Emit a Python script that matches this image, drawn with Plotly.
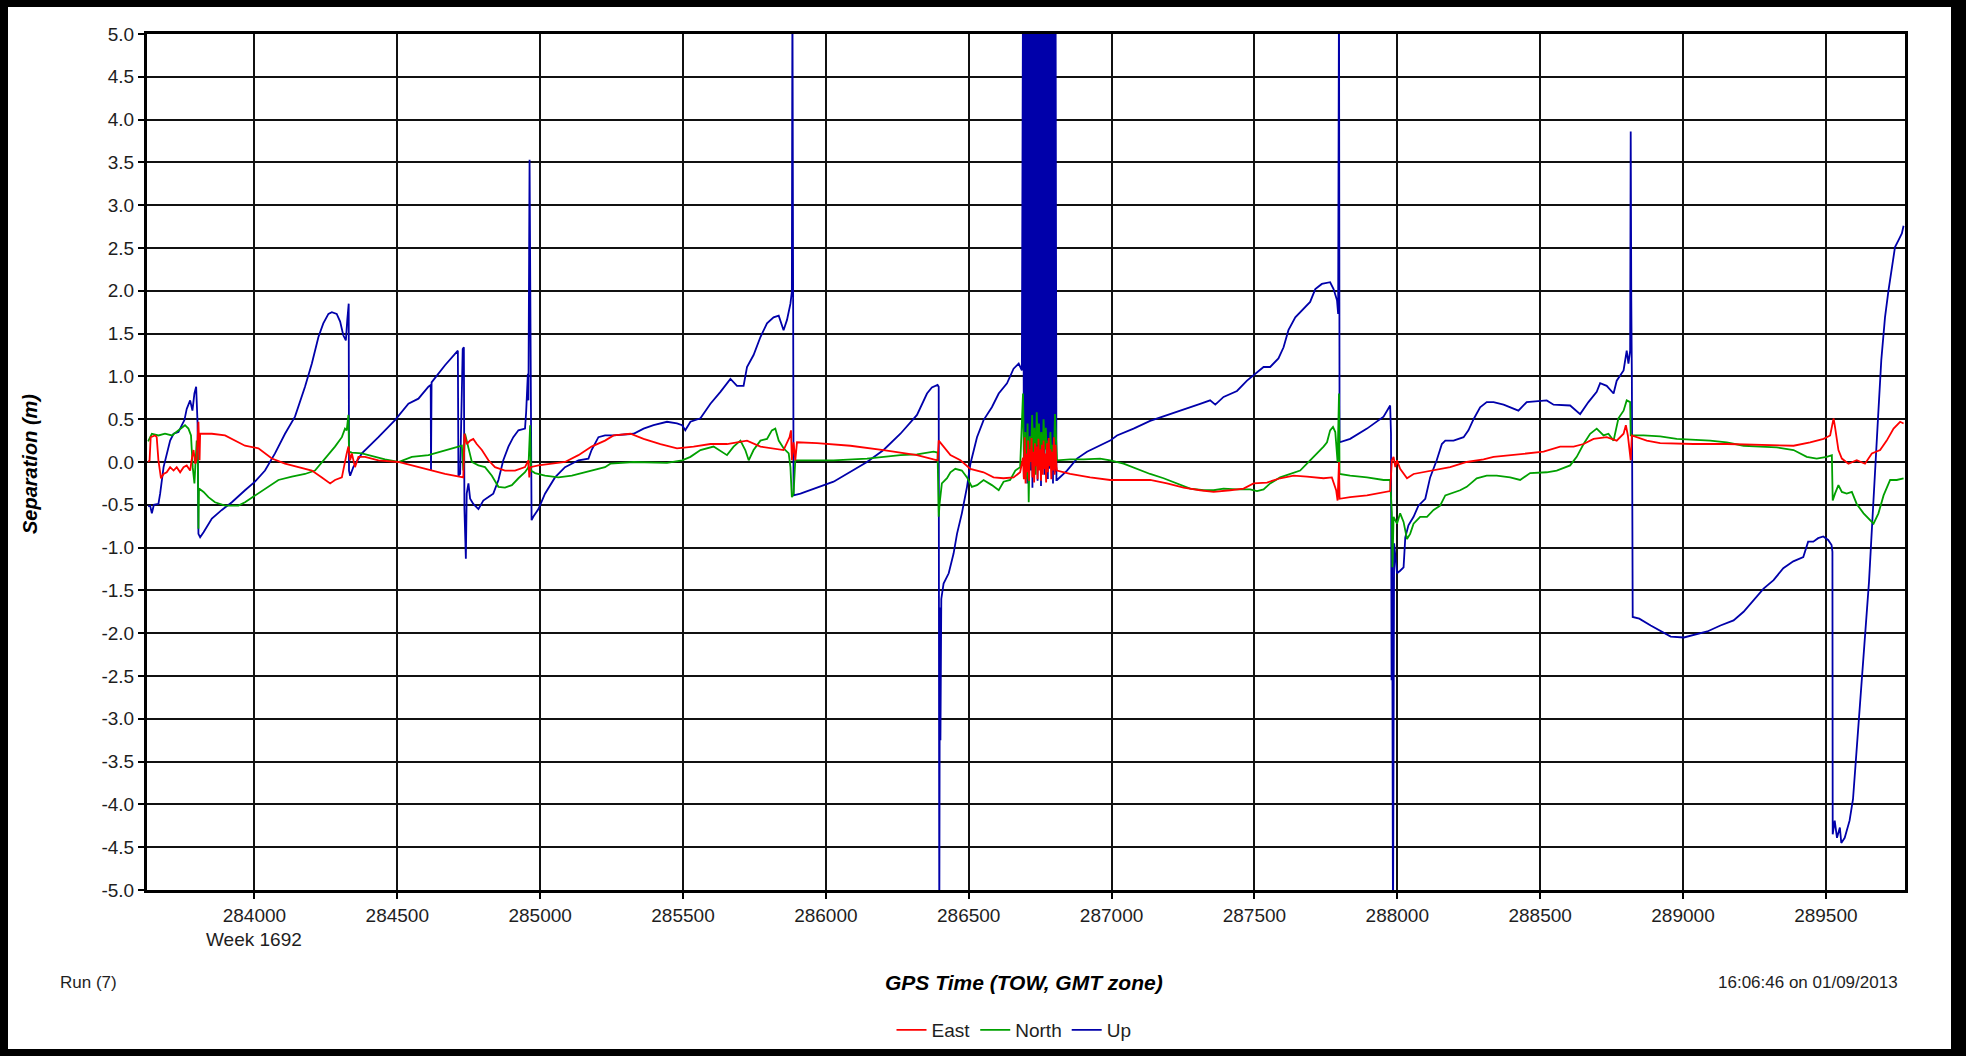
import plotly.graph_objects as go

# GPS separation (metres) against time of week, three components.
# Each list holds (TOW seconds, separation m) pairs.

EAST = [
    (283628, 0.00), (283633, 0.02), (283637, 0.29), (283652, 0.31), (283658, 0.29),
    (283664, 0.02), (283673, -0.19), (283682, -0.14), (283693, -0.12), (283705, -0.06),
    (283717, -0.10), (283728, -0.06), (283740, -0.12), (283752, -0.06), (283763, -0.04),
    (283775, -0.10), (283780, 0.02), (283787, 0.14), (283793, -0.02), (283798, 0.04),
    (283804, 0.47), (283808, 0.02), (283810, 0.33), (283851, 0.33), (283897, 0.31),
    (283932, 0.25), (283967, 0.19), (284014, 0.16), (284061, 0.04), (284107, -0.02),
    (284154, -0.06), (284201, -0.10), (284236, -0.18), (284265, -0.25), (284282, -0.21),
    (284306, -0.18), (284323, 0.10), (284329, 0.18), (284335, 0.02), (284341, 0.10),
    (284352, -0.06), (284364, 0.06), (284387, 0.06), (284434, 0.02), (284504, 0.00),
    (284551, -0.04), (284615, -0.09), (284667, -0.14), (284731, -0.18), (284735, 0.33),
    (284743, 0.21), (284755, 0.25), (284766, 0.27), (284778, 0.21), (284796, 0.14),
    (284819, 0.02), (284842, -0.06), (284877, -0.10), (284912, -0.10), (284947, -0.06),
    (284959, 0.02), (284962, -0.18), (284966, -0.06), (284994, -0.04), (285041, -0.02),
    (285087, 0.00), (285134, 0.08), (285180, 0.18), (285227, 0.25), (285257, 0.31),
    (285316, 0.33), (285362, 0.27), (285421, 0.21), (285479, 0.16), (285537, 0.18),
    (285596, 0.21), (285654, 0.21), (285724, 0.25), (285771, 0.18), (285817, 0.16),
    (285852, 0.14), (285873, 0.29), (285878, 0.37), (285881, 0.02), (285887, 0.23),
    (285893, 0.02), (285899, 0.23), (285969, 0.22), (286086, 0.19), (286202, 0.14),
    (286319, 0.08), (286377, 0.03), (286391, 0.02), (286395, 0.25), (286412, 0.18),
    (286436, 0.08), (286471, 0.02), (286506, -0.08), (286552, -0.12), (286587, -0.18),
    (286622, -0.19), (286657, -0.18), (286680, -0.12),
    (286690, 0.05), (286693, -0.20), (286696, 0.29), (286699, -0.25), (286702, 0.10),
    (286705, -0.12), (286708, 0.25), (286711, -0.22), (286714, 0.15), (286717, 0.00),
    (286720, 0.28), (286723, -0.18), (286726, 0.12), (286729, -0.24), (286732, 0.22),
    (286735, -0.05), (286738, 0.18), (286741, -0.20), (286744, 0.27), (286747, -0.10),
    (286750, 0.15), (286753, -0.22), (286756, 0.20), (286759, -0.15), (286762, 0.25),
    (286765, -0.08), (286768, 0.10), (286771, -0.24), (286774, 0.22), (286777, -0.12),
    (286780, 0.28), (286783, -0.05), (286786, 0.15), (286789, -0.20), (286792, 0.12),
    (286795, -0.10), (286798, 0.29), (286801, -0.15), (286804, 0.20), (286807, -0.05),
    (286809, -0.10), (286855, -0.14), (286925, -0.18), (286995, -0.21), (287077, -0.21),
    (287135, -0.21), (287194, -0.25), (287252, -0.30), (287310, -0.33), (287357, -0.35),
    (287415, -0.33), (287462, -0.31), (287497, -0.25), (287544, -0.24), (287590, -0.19),
    (287637, -0.16), (287684, -0.17), (287742, -0.19), (287771, -0.18), (287779, -0.25),
    (287786, -0.33), (287791, -0.45), (287796, 0.00), (287798, -0.43), (287835, -0.41),
    (287894, -0.39), (287952, -0.35), (287975, -0.34), (287981, 0.02), (287987, 0.06),
    (287993, -0.06), (287999, 0.02), (288010, -0.08), (288034, -0.19), (288057, -0.14),
    (288092, -0.12), (288138, -0.09), (288185, -0.06), (288243, 0.00), (288302, 0.03),
    (288337, 0.06), (288395, 0.08), (288453, 0.10), (288512, 0.12), (288570, 0.18),
    (288617, 0.18), (288652, 0.21), (288687, 0.27), (288733, 0.29), (288768, 0.25),
    (288792, 0.33), (288800, 0.43), (288807, 0.31), (288817, 0.02), (288821, 0.31),
    (288873, 0.25), (288920, 0.22), (289037, 0.21), (289153, 0.21), (289270, 0.20),
    (289387, 0.19), (289445, 0.23), (289492, 0.27), (289515, 0.31), (289527, 0.51),
    (289532, 0.41), (289544, 0.14), (289556, 0.04), (289579, -0.02), (289608, 0.02),
    (289637, -0.02), (289661, 0.10), (289690, 0.14), (289713, 0.25), (289737, 0.39),
    (289760, 0.47), (289772, 0.45),
]

NORTH = [
    (283628, 0.24), (283635, 0.29), (283641, 0.33), (283664, 0.31), (283687, 0.33),
    (283711, 0.31), (283734, 0.37), (283746, 0.41), (283757, 0.43), (283769, 0.39),
    (283778, 0.31), (283784, -0.06), (283790, -0.25), (283793, -0.06), (283798, 0.25),
    (283802, 0.02), (283804, -0.78), (283806, -0.31), (283822, -0.35), (283839, -0.41),
    (283862, -0.47), (283897, -0.51), (283944, -0.51), (283967, -0.47), (284002, -0.39),
    (284037, -0.31), (284084, -0.21), (284131, -0.17), (284177, -0.14), (284212, -0.10),
    (284247, 0.04), (284282, 0.18), (284306, 0.29), (284317, 0.39), (284323, 0.37),
    (284329, 0.55), (284331, 0.12), (284341, 0.11), (284376, 0.10), (284411, 0.07),
    (284457, 0.03), (284504, 0.00), (284551, 0.06), (284609, 0.08), (284667, 0.14),
    (284714, 0.18), (284726, 0.19), (284731, -0.10), (284737, 0.33), (284749, 0.18),
    (284761, 0.00), (284784, -0.04), (284807, -0.06), (284831, -0.16), (284854, -0.29),
    (284877, -0.30), (284901, -0.27), (284924, -0.19), (284947, -0.12), (284959, -0.06),
    (284965, 0.43), (284968, -0.10), (284982, -0.13), (285017, -0.16), (285064, -0.18),
    (285111, -0.16), (285157, -0.12), (285204, -0.08), (285227, -0.06), (285246, -0.02),
    (285327, 0.00), (285444, -0.01), (285497, 0.02), (285526, 0.06), (285561, 0.14),
    (285607, 0.18), (285654, 0.08), (285677, 0.18), (285701, 0.25), (285718, 0.14),
    (285730, 0.02), (285747, 0.14), (285771, 0.25), (285794, 0.27), (285811, 0.37),
    (285823, 0.39), (285835, 0.25), (285852, 0.16), (285870, 0.10), (285876, -0.06),
    (285881, -0.41), (285887, -0.37), (285893, 0.02), (285911, 0.02), (286027, 0.02),
    (286144, 0.04), (286261, 0.08), (286319, 0.09), (286377, 0.12), (286391, 0.11),
    (286395, -0.64), (286398, -0.49), (286406, -0.25), (286424, -0.19), (286436, -0.12),
    (286453, -0.08), (286476, -0.10), (286494, -0.18), (286511, -0.29), (286529, -0.27),
    (286552, -0.21), (286581, -0.27), (286605, -0.33), (286622, -0.23), (286645, -0.21),
    (286663, -0.10), (286680, -0.06),
    (286690, 0.80), (286694, -0.10), (286698, 0.35), (286702, -0.20), (286706, 0.45),
    (286710, -0.47), (286714, 0.30), (286718, 0.05), (286722, 0.55), (286726, 0.10),
    (286730, 0.40), (286734, -0.15), (286738, 0.58), (286742, 0.20), (286746, 0.45),
    (286750, 0.05), (286754, 0.35), (286758, -0.05), (286762, 0.50), (286766, 0.15),
    (286770, 0.40), (286774, -0.10), (286778, 0.25), (286782, 0.10), (286786, 0.35),
    (286790, -0.05), (286794, 0.20), (286798, 0.05), (286802, 0.56), (286806, 0.10),
    (286809, 0.02), (286855, 0.03), (286902, 0.03), (286960, 0.04), (286995, 0.02),
    (287042, -0.02), (287089, -0.08), (287135, -0.14), (287182, -0.19), (287229, -0.25),
    (287275, -0.31), (287322, -0.33), (287357, -0.33), (287392, -0.31), (287439, -0.32),
    (287485, -0.32), (287509, -0.34), (287532, -0.32), (287555, -0.25), (287590, -0.18),
    (287625, -0.14), (287660, -0.10), (287695, 0.02), (287719, 0.10), (287742, 0.18),
    (287754, 0.23), (287765, 0.37), (287775, 0.41), (287783, 0.35), (287791, 0.00),
    (287796, 0.80), (287798, -0.14), (287835, -0.16), (287894, -0.18), (287952, -0.21),
    (287975, -0.21), (287981, -0.60), (287983, -1.23), (287987, -0.64), (287999, -0.72),
    (288010, -0.60), (288022, -0.70), (288034, -0.90), (288045, -0.84), (288057, -0.72),
    (288080, -0.64), (288104, -0.64), (288127, -0.56), (288150, -0.51), (288168, -0.39),
    (288185, -0.37), (288220, -0.33), (288243, -0.29), (288278, -0.19), (288313, -0.16),
    (288348, -0.16), (288395, -0.18), (288430, -0.21), (288465, -0.13), (288523, -0.12),
    (288558, -0.10), (288605, -0.04), (288628, 0.06), (288652, 0.21), (288675, 0.33),
    (288698, 0.39), (288722, 0.31), (288739, 0.33), (288757, 0.25), (288774, 0.51),
    (288792, 0.60), (288803, 0.72), (288815, 0.70), (288817, 0.31), (288862, 0.31),
    (288920, 0.30), (288978, 0.27), (289037, 0.26), (289095, 0.25), (289153, 0.23),
    (289212, 0.19), (289270, 0.18), (289328, 0.17), (289387, 0.14), (289433, 0.06),
    (289468, 0.04), (289503, 0.06), (289521, 0.08), (289524, -0.45), (289532, -0.37),
    (289544, -0.27), (289556, -0.35), (289573, -0.37), (289591, -0.35), (289608, -0.49),
    (289632, -0.60), (289667, -0.72), (289684, -0.60), (289702, -0.39), (289725, -0.21),
    (289748, -0.21), (289772, -0.19),
]

UP = [
    (283628, -0.52), (283635, -0.51), (283641, -0.60), (283648, -0.50), (283664, -0.49),
    (283670, -0.37), (283682, -0.06), (283693, 0.10), (283705, 0.25), (283717, 0.33),
    (283734, 0.35), (283746, 0.43), (283755, 0.49), (283763, 0.62), (283775, 0.72),
    (283783, 0.60), (283790, 0.80), (283796, 0.88), (283801, 0.45), (283804, -0.84),
    (283810, -0.88), (283822, -0.82), (283839, -0.72), (283851, -0.66), (283886, -0.56),
    (283921, -0.47), (283967, -0.33), (284002, -0.23), (284037, -0.10), (284072, 0.10),
    (284107, 0.33), (284142, 0.53), (284177, 0.88), (284201, 1.15), (284224, 1.46),
    (284241, 1.62), (284259, 1.73), (284271, 1.75), (284288, 1.73), (284300, 1.64),
    (284311, 1.48), (284320, 1.42), (284325, 1.66), (284330, 1.85), (284331, -0.10),
    (284335, -0.16), (284346, -0.06), (284376, 0.10), (284434, 0.29), (284492, 0.49),
    (284539, 0.68), (284574, 0.74), (284609, 0.88), (284617, 0.90), (284618, -0.10),
    (284620, 0.93), (284667, 1.13), (284702, 1.27), (284712, 1.30), (284714, -0.16),
    (284720, -0.14), (284729, 1.32), (284733, 1.34), (284735, -0.55), (284740, -1.13),
    (284743, -0.37), (284749, -0.25), (284755, -0.43), (284766, -0.49), (284784, -0.55),
    (284801, -0.45), (284819, -0.41), (284836, -0.37), (284854, -0.21), (284871, 0.02),
    (284889, 0.18), (284906, 0.29), (284924, 0.37), (284947, 0.39), (284951, 0.58),
    (284957, 1.03), (284959, 0.72), (284963, 3.53), (284970, -0.68), (284976, -0.64),
    (284994, -0.55), (285017, -0.37), (285052, -0.18), (285087, -0.06), (285134, 0.02),
    (285169, 0.04), (285180, 0.14), (285204, 0.29), (285227, 0.31), (285257, 0.31),
    (285327, 0.33), (285362, 0.39), (285397, 0.43), (285444, 0.47), (285479, 0.45),
    (285497, 0.43), (285508, 0.37), (285526, 0.47), (285561, 0.51), (285596, 0.68),
    (285631, 0.82), (285666, 0.97), (285689, 0.89), (285712, 0.89), (285724, 1.11),
    (285747, 1.25), (285771, 1.46), (285794, 1.62), (285817, 1.69), (285835, 1.71),
    (285852, 1.54), (285864, 1.66), (285876, 1.85), (285881, 1.99), (285883, 5.60),
    (285887, -0.39), (285911, -0.37), (286027, -0.23), (286144, 0.00), (286202, 0.14),
    (286261, 0.33), (286319, 0.55), (286354, 0.80), (286371, 0.87), (286391, 0.90),
    (286395, 0.88), (286397, -5.60), (286399, -1.70), (286401, -3.25), (286404, -1.60),
    (286412, -1.42), (286430, -1.30), (286447, -1.07), (286459, -0.84), (286476, -0.60),
    (286494, -0.29), (286506, -0.02), (286517, 0.14), (286529, 0.29), (286552, 0.49),
    (286581, 0.64), (286605, 0.80), (286634, 0.92), (286657, 1.09), (286675, 1.15),
    (286686, 1.07),
    (286690, 5.60), (286693, -0.18), (286696, 5.60), (286699, 0.05), (286702, 5.60),
    (286705, -0.25), (286708, 5.60), (286711, 0.12), (286714, 5.60), (286717, -0.10),
    (286720, 5.60), (286723, -0.30), (286726, 5.60), (286729, 0.20), (286732, 5.60),
    (286735, -0.05), (286738, 5.60), (286741, -0.22), (286744, 5.60), (286747, 0.10),
    (286750, 5.60), (286753, -0.28), (286756, 5.60), (286759, 0.00), (286762, 5.60),
    (286765, -0.15), (286768, 5.60), (286771, 0.15), (286774, 5.60), (286777, -0.20),
    (286780, 5.60), (286783, -0.08), (286786, 5.60), (286789, 0.05), (286792, 5.60),
    (286795, -0.25), (286798, 5.60), (286801, -0.12), (286804, 5.60), (286807, -0.21),
    (286809, -0.21), (286844, -0.10), (286879, 0.04), (286914, 0.12), (286960, 0.19),
    (286995, 0.25), (287019, 0.31), (287077, 0.39), (287135, 0.48), (287194, 0.55),
    (287252, 0.62), (287310, 0.68), (287345, 0.72), (287363, 0.67), (287392, 0.76),
    (287439, 0.83), (287474, 0.95), (287509, 1.05), (287532, 1.11), (287555, 1.11),
    (287584, 1.21), (287602, 1.34), (287619, 1.54), (287643, 1.69), (287672, 1.79),
    (287695, 1.87), (287713, 2.02), (287736, 2.08), (287765, 2.10), (287777, 2.02),
    (287789, 1.89), (287793, 1.73), (287796, 5.60), (287798, 0.23), (287835, 0.27),
    (287894, 0.39), (287952, 0.53), (287975, 0.66), (287978, 0.33), (287980, -2.55),
    (287982, -0.90), (287985, -5.60), (287989, -0.95), (287999, -1.30), (288010, -1.27),
    (288022, -1.23), (288028, -0.88), (288039, -0.74), (288057, -0.64), (288074, -0.51),
    (288098, -0.43), (288115, -0.18), (288138, 0.02), (288156, 0.21), (288168, 0.25),
    (288197, 0.25), (288232, 0.29), (288249, 0.37), (288267, 0.50), (288290, 0.64),
    (288313, 0.70), (288337, 0.70), (288372, 0.67), (288424, 0.60), (288453, 0.70),
    (288523, 0.72), (288547, 0.67), (288605, 0.66), (288640, 0.56), (288669, 0.70),
    (288698, 0.82), (288710, 0.92), (288733, 0.89), (288757, 0.80), (288768, 0.95),
    (288792, 1.07), (288803, 1.30), (288809, 1.15), (288815, 1.30), (288817, 3.86),
    (288819, 1.89), (288821, 1.00), (288824, -1.81), (288847, -1.83), (288887, -1.91),
    (288922, -1.98), (288957, -2.04), (289003, -2.05), (289038, -2.02), (289085, -1.98),
    (289131, -1.91), (289177, -1.85), (289212, -1.75), (289247, -1.61), (289282, -1.48),
    (289317, -1.38), (289351, -1.24), (289386, -1.16), (289421, -1.11), (289438, -0.93),
    (289456, -0.93), (289473, -0.89), (289491, -0.87), (289508, -0.91), (289520, -0.97),
    (289523, -1.05), (289524, -4.35), (289531, -4.19), (289539, -4.39), (289549, -4.27),
    (289554, -4.45), (289566, -4.39), (289583, -4.19), (289595, -3.94), (289606, -3.45),
    (289618, -2.88), (289630, -2.43), (289641, -1.93), (289651, -1.40), (289659, -0.91),
    (289667, -0.46), (289676, 0.00), (289682, 0.48), (289694, 1.19), (289707, 1.69),
    (289719, 2.00), (289731, 2.24), (289742, 2.51), (289754, 2.59), (289766, 2.67),
    (289772, 2.76),
]

X_TICKS = [284000, 284500, 285000, 285500, 286000, 286500, 287000,
           287500, 288000, 288500, 289000, 289500]
Y_TICKS = [5.0, 4.5, 4.0, 3.5, 3.0, 2.5, 2.0, 1.5, 1.0, 0.5, 0.0,
           -0.5, -1.0, -1.5, -2.0, -2.5, -3.0, -3.5, -4.0, -4.5, -5.0]
X_RANGE = [283624, 289777]
Y_RANGE = [-5.0, 5.0]

WEEK_LABEL = "Week 1692"
RUN_LABEL = "Run (7)"
STAMP_LABEL = "16:06:46 on 01/09/2013"

# page geometry (pixels)
W, H = 1966, 1056
PL, PR, PT, PB = 147, 1905, 34, 890


def fx(px):
    return (px - PL) / (PR - PL)


def fy(py):
    return (PB - py) / (PB - PT)


FONT = "Liberation Sans, Arial, sans-serif"
TEXT = "#1e1e1e"

fig = go.Figure()

# Up first, then North, then East so that East sits on top
for name, pts, colour in [("Up", UP, "#0000AA"),
                          ("North", NORTH, "#00A000"),
                          ("East", EAST, "#FF0000")]:
    xs = [p[0] for p in pts]
    ys = [p[1] for p in pts]
    fig.add_trace(go.Scatter(x=xs, y=ys, mode="lines", name=name,
                             line=dict(color=colour, width=1.8),
                             hoverinfo="skip"))

axis_common = dict(
    showline=True, linewidth=3, linecolor="black", mirror=True,
    showgrid=True, gridcolor="#111111", gridwidth=1.6,
    zeroline=False, ticks="outside", ticklen=6, tickwidth=1.5,
    tickcolor="black", tickfont=dict(family=FONT, size=19, color=TEXT),
)

fig.update_xaxes(range=X_RANGE, tickvals=X_TICKS,
                 ticktext=[str(v) for v in X_TICKS],
                 ticklabelstandoff=0, **axis_common)
fig.update_yaxes(range=Y_RANGE, tickvals=Y_TICKS,
                 ticktext=["%.1f" % v for v in Y_TICKS],
                 ticklabelstandoff=0, **axis_common)

annotations = [
    dict(text=WEEK_LABEL, x=X_TICKS[0], xref="x", y=fy(939), yref="paper",
         showarrow=False, xanchor="center", yanchor="middle",
         font=dict(family=FONT, size=19, color=TEXT)),
    dict(text="<b><i>GPS Time (TOW, GMT zone)</i></b>", x=fx(1024), y=fy(983),
         xref="paper", yref="paper", showarrow=False,
         xanchor="center", yanchor="middle",
         font=dict(family=FONT, size=21, color="black")),
    dict(text="<b><i>Separation (m)</i></b>", x=fx(30), y=fy(464),
         xref="paper", yref="paper", showarrow=False, textangle=-90,
         xanchor="center", yanchor="middle",
         font=dict(family=FONT, size=20, color="black")),
    dict(text=RUN_LABEL, x=fx(58), y=fy(983), xref="paper", yref="paper",
         showarrow=False, xanchor="left", yanchor="middle",
         font=dict(family=FONT, size=17, color=TEXT)),
    dict(text=STAMP_LABEL, x=fx(1900), y=fy(983), xref="paper", yref="paper",
         showarrow=False, xanchor="right", yanchor="middle",
         font=dict(family=FONT, size=17, color=TEXT)),
]

# heavy black border round the whole page
shapes = []
for x0, y0, x1, y1 in [(0, 0, W, 7), (0, 1049, W, H), (0, 0, 8, H), (1951, 0, W, H)]:
    shapes.append(dict(type="rect", xref="paper", yref="paper",
                       x0=fx(x0), x1=fx(x1), y0=fy(y1), y1=fy(y0),
                       fillcolor="black", line=dict(width=0), layer="above"))

fig.update_layout(
    width=W, height=H,
    margin=dict(l=PL, r=W - PR, t=PT, b=H - PB, pad=0, autoexpand=False),
    paper_bgcolor="white", plot_bgcolor="white",
    font=dict(family=FONT, color=TEXT),
    showlegend=True,
    legend=dict(orientation="h", x=fx(1014), y=fy(1030),
                xanchor="center", yanchor="middle",
                traceorder="reversed", itemwidth=30,
                font=dict(family=FONT, size=19, color=TEXT),
                bgcolor="rgba(0,0,0,0)"),
    annotations=annotations,
    shapes=shapes,
)

fig.write_html("out.html")
